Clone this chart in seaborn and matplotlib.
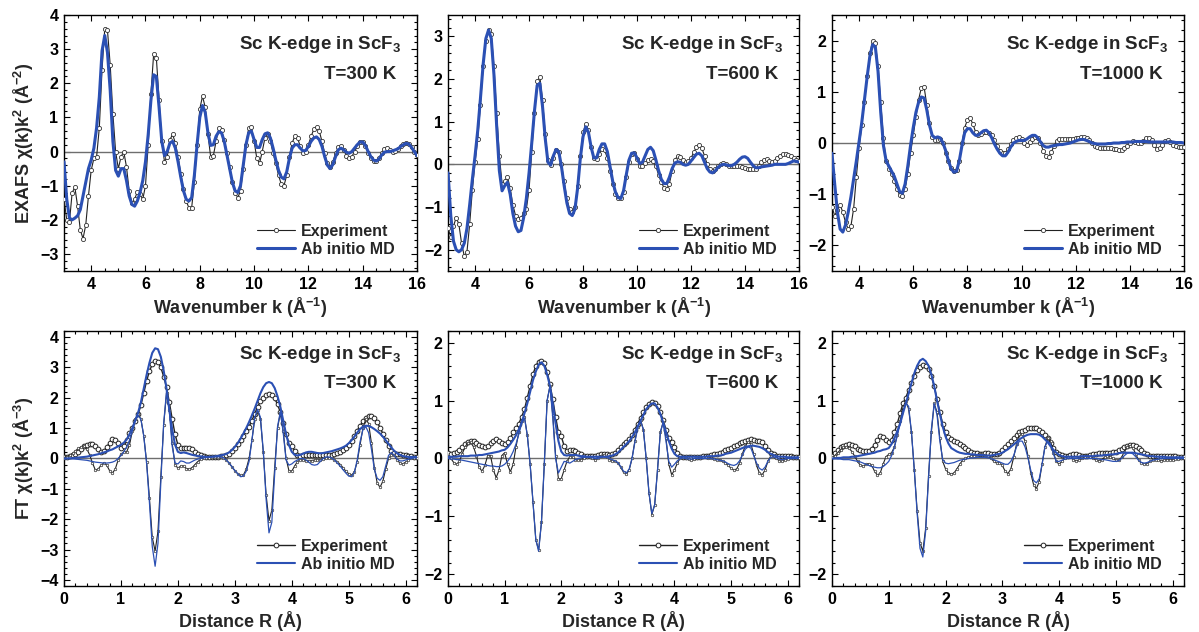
import numpy as np
import matplotlib
matplotlib.use("Agg")
import matplotlib.pyplot as plt
import seaborn as sns
from matplotlib.ticker import MultipleLocator, AutoMinorLocator

# sampling grids (wavenumber k, distance R)
k = np.round(np.linspace(3.0, 16.0, 131), 2)
r = np.round(np.linspace(0.0, 6.2, 125), 2)

# ---- EXAFS chi(k)k^2, experiment / ab initio MD ----
exp_300 = [
    -1.40, -2.00, -2.05, -1.20, -1.05, -1.60, -2.30, -2.55, -2.15, -1.30,
    -0.55, -0.20, -0.15, 0.70, 2.40, 3.60, 3.55, 2.55, 1.10, 0.00,
    -0.50, -0.15, 0.00, -0.45, -1.15, -1.50, -1.40, -1.18, -1.25, -1.40,
    -1.00, 0.20, 1.70, 2.85, 2.75, 1.50, 0.30, -0.30, -0.15, 0.35,
    0.50, 0.25, -0.15, -0.65, -1.10, -1.45, -1.65, -1.65, -0.90, 0.20,
    1.25, 1.62, 1.30, 0.50, -0.15, -0.12, 0.30, 0.68, 0.62, 0.35,
    -0.05, -0.45, -0.90, -1.20, -1.35, -1.15, -0.50, 0.20, 0.68, 0.72,
    0.30, -0.20, -0.35, 0.00, 0.40, 0.50, 0.30, -0.05, -0.35, -0.70,
    -0.95, -1.00, -0.70, -0.15, 0.25, 0.45, 0.40, 0.15, -0.05, 0.00,
    0.20, 0.45, 0.65, 0.72, 0.60, 0.30, -0.05, -0.35, -0.45, -0.30,
    -0.05, 0.12, 0.15, 0.05, -0.12, -0.20, -0.15, 0.00, 0.15, 0.27,
    0.28, 0.15, -0.05, -0.20, -0.28, -0.28, -0.18, -0.05, 0.08, 0.10,
    0.05, 0.00, 0.02, 0.08, 0.15, 0.22, 0.26, 0.22, 0.12, 0.00,
    -0.10]
md_300 = [
    -0.30, -1.40, -1.95, -2.00, -1.95, -1.88, -1.70, -1.30, -0.90, -0.50,
    -0.25, 0.10, 0.70, 1.60, 2.95, 3.40, 2.90, 1.80, 0.30, -0.55,
    -0.72, -0.50, -0.50, -0.85, -1.30, -1.55, -1.60, -1.45, -1.20, -0.85,
    -0.30, 0.50, 1.50, 2.25, 2.20, 1.30, 0.30, -0.12, 0.00, 0.25,
    0.30, 0.10, -0.30, -0.75, -1.15, -1.40, -1.45, -1.35, -0.70, 0.20,
    1.00, 1.35, 1.15, 0.55, 0.18, 0.20, 0.45, 0.58, 0.55, 0.30,
    -0.10, -0.50, -0.90, -1.15, -1.20, -1.00, -0.40, 0.20, 0.55, 0.60,
    0.35, 0.12, 0.12, 0.35, 0.52, 0.55, 0.40, 0.10, -0.25, -0.55,
    -0.75, -0.80, -0.60, -0.20, 0.10, 0.20, 0.20, 0.10, 0.02, 0.03,
    0.15, 0.30, 0.40, 0.43, 0.35, 0.15, -0.15, -0.40, -0.50, -0.38,
    -0.15, 0.05, 0.10, 0.05, -0.02, -0.05, 0.00, 0.10, 0.20, 0.28,
    0.28, 0.18, 0.00, -0.15, -0.25, -0.28, -0.22, -0.10, -0.02, 0.00,
    0.00, 0.02, 0.05, 0.08, 0.15, 0.20, 0.24, 0.22, 0.12, 0.00,
    -0.12]
exp_600 = [
    -1.50, -1.70, -1.45, -1.25, -1.40, -1.85, -2.15, -2.05, -1.40, -0.60,
    0.05, 0.60, 1.40, 2.30, 2.90, 3.15, 3.05, 2.30, 1.20, 0.20,
    -0.45, -0.40, -0.30, -0.55, -0.95, -1.20, -1.28, -1.25, -1.15, -1.05,
    -0.60, 0.30, 1.20, 1.95, 2.05, 1.50, 0.70, 0.10, -0.02, 0.15,
    0.33, 0.30, 0.00, -0.40, -0.80, -1.05, -1.12, -1.00, -0.50, 0.20,
    0.75, 0.95, 0.80, 0.40, 0.15, 0.12, 0.25, 0.35, 0.33, 0.15,
    -0.15, -0.45, -0.70, -0.80, -0.80, -0.65, -0.30, 0.05, 0.25, 0.27,
    0.12, -0.03, -0.05, 0.02, 0.10, 0.13, 0.08, -0.05, -0.25, -0.42,
    -0.55, -0.58, -0.45, -0.15, 0.10, 0.20, 0.18, 0.10, 0.05, 0.07,
    0.15, 0.28, 0.40, 0.45, 0.38, 0.20, 0.00, -0.12, -0.15, -0.10,
    -0.03, 0.00, 0.02, 0.00, -0.03, -0.05, -0.05, -0.04, -0.05, -0.07,
    -0.08, -0.10, -0.12, -0.12, -0.10, -0.03, 0.05, 0.10, 0.12, 0.08,
    0.05, 0.08, 0.15, 0.20, 0.24, 0.25, 0.23, 0.20, 0.15, 0.10,
    0.08]
md_600 = [
    -0.20, -1.20, -1.80, -2.00, -2.05, -2.00, -1.85, -1.50, -0.95, -0.35,
    0.20, 0.80, 1.55, 2.35, 2.95, 3.15, 2.95, 2.10, 0.90, -0.15,
    -0.62, -0.50, -0.42, -0.70, -1.15, -1.45, -1.58, -1.55, -1.25, -0.80,
    -0.20, 0.50, 1.25, 1.85, 1.90, 1.35, 0.60, 0.05, -0.02, 0.20,
    0.35, 0.30, -0.05, -0.50, -0.90, -1.15, -1.20, -1.05, -0.55, 0.15,
    0.65, 0.88, 0.75, 0.40, 0.15, 0.15, 0.35, 0.48, 0.48, 0.30,
    -0.05, -0.40, -0.65, -0.78, -0.80, -0.62, -0.25, 0.10, 0.26, 0.27,
    0.15, 0.02, 0.05, 0.20, 0.35, 0.40, 0.32, 0.10, -0.15, -0.35,
    -0.45, -0.45, -0.30, -0.10, 0.03, 0.06, 0.05, 0.00, -0.02, 0.00,
    0.08, 0.16, 0.24, 0.26, 0.20, 0.05, -0.10, -0.18, -0.20, -0.15,
    -0.07, -0.02, 0.00, -0.01, -0.03, -0.03, 0.00, 0.05, 0.12, 0.17,
    0.18, 0.14, 0.05, -0.03, -0.08, -0.08, -0.06, -0.05, -0.04, -0.03,
    -0.02, 0.00, 0.00, 0.00, 0.00, 0.00, 0.02, 0.05, 0.08, 0.07,
    0.05]
exp_1000 = [
    -1.25, -1.42, -1.30, -1.21, -1.35, -1.55, -1.68, -1.62, -1.28, -0.66,
    -0.10, 0.35, 0.80, 1.30, 1.75, 2.00, 1.95, 1.50, 0.80, 0.10,
    -0.35, -0.50, -0.60, -0.75, -0.90, -1.02, -1.03, -0.90, -0.60, -0.20,
    0.15, 0.50, 0.85, 1.08, 1.10, 0.75, 0.40, 0.12, 0.05, 0.05,
    0.08, 0.00, -0.20, -0.35, -0.48, -0.55, -0.53, -0.35, 0.00, 0.30,
    0.45, 0.48, 0.38, 0.22, 0.15, 0.18, 0.22, 0.22, 0.20, 0.15,
    0.05, -0.05, -0.15, -0.20, -0.20, -0.12, -0.02, 0.06, 0.10, 0.12,
    0.08, 0.00, -0.03, 0.02, 0.08, 0.12, 0.10, 0.00, -0.15, -0.25,
    -0.27, -0.18, -0.05, 0.04, 0.07, 0.08, 0.08, 0.07, 0.07, 0.08,
    0.09, 0.10, 0.11, 0.12, 0.10, 0.06, 0.00, -0.05, -0.08, -0.10,
    -0.10, -0.09, -0.09, -0.10, -0.11, -0.12, -0.14, -0.14, -0.10, -0.05,
    0.00, 0.03, 0.02, 0.00, 0.00, 0.04, 0.09, 0.10, 0.05, -0.04,
    -0.12, -0.10, -0.03, 0.04, 0.06, 0.02, -0.03, -0.06, -0.07, -0.07,
    -0.08]
md_1000 = [
    -0.20, -0.80, -1.35, -1.68, -1.74, -1.60, -1.35, -1.05, -0.70, -0.35,
    0.02, 0.40, 0.85, 1.30, 1.70, 1.92, 1.88, 1.40, 0.60, -0.05,
    -0.35, -0.45, -0.55, -0.65, -0.80, -0.95, -0.98, -0.80, -0.45, -0.05,
    0.30, 0.60, 0.80, 0.90, 0.88, 0.65, 0.35, 0.15, 0.10, 0.12,
    0.10, 0.00, -0.15, -0.35, -0.50, -0.57, -0.55, -0.35, -0.05, 0.20,
    0.28, 0.28, 0.20, 0.15, 0.15, 0.20, 0.24, 0.25, 0.20, 0.10,
    -0.02, -0.12, -0.20, -0.25, -0.25, -0.18, -0.08, 0.00, 0.03, 0.05,
    0.05, 0.05, 0.08, 0.12, 0.15, 0.15, 0.10, 0.02, -0.05, -0.08,
    -0.08, -0.06, -0.05, -0.04, -0.03, -0.03, -0.02, -0.01, 0.00, 0.02,
    0.04, 0.06, 0.07, 0.07, 0.05, 0.03, 0.00, -0.01, -0.02, -0.02,
    -0.02, -0.02, -0.01, -0.01, 0.00, 0.00, 0.00, 0.01, 0.01, 0.02,
    0.02, 0.02, 0.03, 0.03, 0.03, 0.03, 0.03, 0.02, 0.02, 0.02,
    0.02, 0.02, 0.02, 0.02, 0.02, 0.02, 0.02, 0.01, 0.01, 0.01,
    0.00]

# ---- Fourier transforms: magnitude and imaginary part ----
ft_exp_mag_300 = [
    0.05, 0.06, 0.08, 0.11, 0.15, 0.21, 0.32, 0.40, 0.45, 0.48,
    0.47, 0.42, 0.30, 0.22, 0.25, 0.37, 0.52, 0.63, 0.62, 0.50,
    0.36, 0.40, 0.60, 0.85, 1.02, 1.22, 1.45, 1.75, 2.15, 2.55,
    2.88, 3.10, 3.20, 3.17, 3.00, 2.70, 2.35, 1.85, 1.30, 0.80,
    0.45, 0.36, 0.35, 0.36, 0.35, 0.30, 0.22, 0.15, 0.10, 0.07,
    0.05, 0.05, 0.05, 0.05, 0.06, 0.07, 0.08, 0.11, 0.16, 0.24,
    0.35, 0.48, 0.62, 0.75, 0.90, 1.05, 1.25, 1.48, 1.70, 1.88,
    2.00, 2.09, 2.13, 2.10, 1.98, 1.78, 1.52, 1.17, 0.82, 0.50,
    0.42, 0.25, 0.12, 0.08, 0.10, 0.11, 0.12, 0.12, 0.11, 0.10,
    0.10, 0.10, 0.11, 0.12, 0.13, 0.14, 0.18, 0.22, 0.27, 0.35,
    0.45, 0.58, 0.75, 0.92, 1.08, 1.22, 1.33, 1.40, 1.40, 1.33,
    1.20, 1.02, 0.82, 0.60, 0.40, 0.25, 0.17, 0.15, 0.14, 0.12,
    0.10, 0.08, 0.07, 0.06, 0.05]
ft_exp_im_300 = [
    0.02, 0.05, 0.10, 0.17, 0.25, 0.33, 0.38, 0.40, 0.32, 0.12,
    -0.15, -0.38, -0.35, -0.22, -0.15, -0.22, -0.40, -0.48, -0.35, -0.05,
    0.15, 0.20, 0.22, 0.45, 0.90, 1.30, 1.45, 1.30, 0.75, -0.10,
    -1.30, -2.60, -3.05, -2.40, -0.60, 1.10, 2.15, 1.60, 0.50, -0.20,
    -0.32, -0.25, -0.25, -0.33, -0.35, -0.30, -0.20, -0.10, -0.03, 0.00,
    0.02, 0.03, 0.04, 0.05, 0.05, 0.05, 0.02, -0.05, -0.15, -0.28,
    -0.40, -0.50, -0.56, -0.55, -0.35, 0.00, 0.60, 1.30, 1.60, 1.30,
    0.20, -1.20, -2.05, -1.70, -0.30, 1.00, 1.50, 0.90, 0.00, -0.40,
    -0.42, -0.25, -0.10, -0.05, -0.05, -0.07, -0.08, -0.07, -0.05, -0.05,
    -0.04, -0.02, 0.00, 0.02, 0.00, -0.05, -0.10, -0.20, -0.30, -0.42,
    -0.50, -0.55, -0.45, -0.10, 0.45, 1.00, 1.30, 1.15, 0.50, -0.30,
    -0.80, -0.95, -0.75, -0.35, 0.00, 0.12, 0.10, -0.05, -0.15, -0.18,
    -0.12, -0.05, 0.00, 0.03, 0.03]
ft_md_mag_300 = [
    0.00, 0.00, 0.01, 0.01, 0.02, 0.03, 0.04, 0.05, 0.06, 0.08,
    0.10, 0.12, 0.14, 0.17, 0.20, 0.23, 0.27, 0.30, 0.35, 0.40,
    0.45, 0.52, 0.62, 0.80, 1.00, 1.25, 1.50, 1.85, 2.30, 2.75,
    3.15, 3.48, 3.63, 3.60, 3.35, 2.90, 2.30, 1.60, 0.95, 0.45,
    0.22, 0.18, 0.20, 0.18, 0.15, 0.12, 0.10, 0.08, 0.07, 0.06,
    0.05, 0.05, 0.06, 0.07, 0.08, 0.10, 0.12, 0.15, 0.20, 0.28,
    0.38, 0.50, 0.65, 0.82, 1.00, 1.20, 1.42, 1.65, 1.90, 2.15,
    2.35, 2.48, 2.52, 2.48, 2.32, 2.05, 1.70, 1.25, 0.80, 0.45,
    0.22, 0.12, 0.10, 0.12, 0.16, 0.20, 0.22, 0.22, 0.20, 0.18,
    0.17, 0.18, 0.20, 0.22, 0.24, 0.27, 0.30, 0.33, 0.37, 0.42,
    0.50, 0.60, 0.72, 0.85, 0.97, 1.05, 1.08, 1.07, 1.03, 0.97,
    0.90, 0.82, 0.72, 0.60, 0.48, 0.36, 0.25, 0.17, 0.12, 0.08,
    0.06, 0.05, 0.05, 0.05, 0.05]
ft_md_im_300 = [
    0.00, 0.00, -0.01, -0.01, -0.02, -0.03, -0.04, -0.05, -0.06, -0.08,
    -0.10, -0.12, -0.13, -0.14, -0.15, -0.15, -0.14, -0.12, -0.08, 0.00,
    0.10, 0.22, 0.38, 0.60, 0.90, 1.25, 1.42, 1.30, 0.75, -0.15,
    -1.45, -2.90, -3.55, -2.80, -0.80, 1.15, 2.20, 1.55, 0.40, -0.15,
    -0.18, -0.08, -0.10, -0.15, -0.15, -0.10, -0.05, -0.02, 0.00, 0.02,
    0.03, 0.04, 0.05, 0.06, 0.06, 0.05, 0.02, -0.05, -0.15, -0.27,
    -0.40, -0.50, -0.60, -0.58, -0.42, -0.10, 0.60, 1.35, 1.62, 1.35,
    0.25, -1.35, -2.45, -2.10, -0.50, 1.05, 1.55, 0.85, -0.05, -0.22,
    -0.18, -0.10, -0.05, 0.00, 0.00, -0.05, -0.12, -0.20, -0.22, -0.20,
    -0.10, 0.00, 0.05, 0.05, 0.02, -0.05, -0.15, -0.25, -0.37, -0.48,
    -0.58, -0.60, -0.45, -0.05, 0.55, 0.95, 1.05, 0.85, 0.30, -0.35,
    -0.65, -0.72, -0.60, -0.25, 0.10, 0.20, 0.10, -0.02, -0.08, -0.08,
    -0.05, -0.02, 0.00, 0.02, 0.02]

ft_exp_mag_600 = [
    0.10, 0.08, 0.09, 0.12, 0.15, 0.20, 0.25, 0.28, 0.30, 0.30,
    0.27, 0.24, 0.22, 0.20, 0.21, 0.26, 0.31, 0.33, 0.31, 0.27,
    0.25, 0.28, 0.35, 0.45, 0.52, 0.60, 0.72, 0.85, 1.05, 1.25,
    1.45, 1.60, 1.67, 1.69, 1.64, 1.50, 1.28, 1.02, 0.72, 0.45,
    0.38, 0.22, 0.13, 0.14, 0.15, 0.13, 0.10, 0.07, 0.05, 0.04,
    0.04, 0.04, 0.05, 0.06, 0.08, 0.08, 0.07, 0.06, 0.07, 0.10,
    0.15, 0.20, 0.25, 0.29, 0.33, 0.40, 0.50, 0.60, 0.70, 0.80,
    0.88, 0.94, 0.97, 0.96, 0.90, 0.80, 0.66, 0.50, 0.35, 0.28,
    0.20, 0.10, 0.04, 0.03, 0.03, 0.03, 0.03, 0.03, 0.03, 0.03,
    0.04, 0.04, 0.05, 0.06, 0.07, 0.08, 0.10, 0.12, 0.14, 0.16,
    0.18, 0.21, 0.24, 0.27, 0.29, 0.31, 0.32, 0.33, 0.32, 0.30,
    0.30, 0.28, 0.22, 0.15, 0.10, 0.07, 0.05, 0.05, 0.05, 0.04,
    0.04, 0.04, 0.03, 0.03, 0.03]
ft_exp_im_600 = [
    0.05, 0.00, -0.07, -0.10, -0.05, 0.08, 0.20, 0.27, 0.28, 0.20,
    0.05, -0.15, -0.22, -0.12, 0.05, 0.05, -0.20, -0.33, -0.20, 0.05,
    0.10, -0.10, -0.23, -0.10, 0.20, 0.45, 0.65, 0.72, 0.40, -0.10,
    -0.75, -1.40, -1.58, -1.10, -0.10, 1.00, 1.25, 0.75, 0.05, -0.35,
    -0.35, -0.20, -0.05, 0.03, 0.02, -0.02, -0.03, -0.02, 0.00, 0.02,
    0.02, 0.00, -0.02, 0.00, 0.05, 0.06, 0.03, -0.02, -0.05, -0.05,
    -0.08, -0.15, -0.24, -0.27, -0.20, 0.00, 0.30, 0.55, 0.67, 0.50,
    0.00, -0.60, -0.97, -0.80, -0.20, 0.45, 0.63, 0.35, -0.10, -0.28,
    -0.20, -0.08, 0.00, 0.02, 0.00, -0.01, -0.02, -0.01, 0.00, 0.01,
    0.02, 0.02, 0.01, 0.00, -0.01, -0.02, -0.02, -0.05, -0.08, -0.12,
    -0.17, -0.20, -0.18, -0.08, 0.08, 0.22, 0.28, 0.25, 0.08, -0.12,
    -0.25, -0.28, -0.20, -0.05, 0.04, 0.05, 0.00, -0.04, -0.05, -0.03,
    -0.01, 0.00, 0.01, 0.01, 0.01]
ft_md_mag_600 = [
    0.03, 0.03, 0.03, 0.03, 0.04, 0.04, 0.04, 0.04, 0.05, 0.05,
    0.05, 0.06, 0.06, 0.07, 0.08, 0.09, 0.10, 0.11, 0.12, 0.14,
    0.15, 0.19, 0.25, 0.32, 0.40, 0.50, 0.62, 0.78, 0.95, 1.15,
    1.35, 1.50, 1.62, 1.66, 1.60, 1.45, 1.25, 0.95, 0.60, 0.30,
    0.12, 0.06, 0.05, 0.06, 0.06, 0.06, 0.05, 0.04, 0.04, 0.03,
    0.03, 0.03, 0.03, 0.03, 0.03, 0.03, 0.03, 0.04, 0.05, 0.07,
    0.10, 0.15, 0.20, 0.25, 0.30, 0.37, 0.45, 0.55, 0.65, 0.75,
    0.85, 0.91, 0.95, 0.95, 0.88, 0.77, 0.62, 0.46, 0.30, 0.17,
    0.08, 0.04, 0.03, 0.03, 0.03, 0.03, 0.03, 0.03, 0.03, 0.03,
    0.03, 0.03, 0.04, 0.04, 0.04, 0.05, 0.05, 0.06, 0.08, 0.09,
    0.10, 0.12, 0.14, 0.16, 0.18, 0.20, 0.21, 0.22, 0.22, 0.21,
    0.20, 0.18, 0.15, 0.11, 0.08, 0.06, 0.04, 0.03, 0.03, 0.03,
    0.02, 0.02, 0.02, 0.02, 0.02]
ft_md_im_600 = [
    0.00, -0.01, -0.01, -0.02, -0.02, -0.03, -0.04, -0.05, -0.06, -0.07,
    -0.08, -0.09, -0.10, -0.11, -0.12, -0.13, -0.13, -0.14, -0.14, -0.13,
    -0.10, -0.05, 0.02, 0.12, 0.25, 0.42, 0.60, 0.70, 0.40, -0.10,
    -0.75, -1.40, -1.60, -1.10, -0.10, 1.00, 1.25, 0.70, 0.00, -0.25,
    -0.15, -0.05, -0.06, -0.08, -0.05, -0.02, 0.00, 0.01, 0.02, 0.02,
    0.02, 0.01, 0.00, 0.00, 0.02, 0.03, 0.02, 0.00, -0.02, -0.04,
    -0.07, -0.14, -0.22, -0.25, -0.18, 0.00, 0.28, 0.52, 0.65, 0.50,
    0.00, -0.60, -0.95, -0.80, -0.20, 0.45, 0.62, 0.30, -0.05, -0.15,
    -0.10, -0.04, 0.00, 0.01, 0.00, -0.01, -0.01, 0.00, 0.00, 0.00,
    0.00, 0.00, 0.00, 0.00, -0.01, -0.02, -0.03, -0.04, -0.06, -0.09,
    -0.11, -0.12, -0.10, -0.04, 0.06, 0.16, 0.20, 0.18, 0.05, -0.08,
    -0.17, -0.20, -0.15, -0.05, 0.02, 0.03, 0.01, -0.01, -0.02, -0.01,
    0.00, 0.00, 0.00, 0.00, 0.00]

ft_exp_mag_1000 = [
    0.05, 0.09, 0.14, 0.19, 0.22, 0.24, 0.25, 0.24, 0.21, 0.17,
    0.14, 0.13, 0.13, 0.13, 0.17, 0.24, 0.32, 0.38, 0.37, 0.32,
    0.28, 0.32, 0.45, 0.60, 0.78, 0.95, 1.05, 1.18, 1.30, 1.42,
    1.52, 1.58, 1.62, 1.60, 1.55, 1.42, 1.25, 1.02, 0.80, 0.60,
    0.45, 0.37, 0.33, 0.30, 0.28, 0.25, 0.22, 0.18, 0.15, 0.12,
    0.10, 0.09, 0.08, 0.08, 0.09, 0.09, 0.08, 0.08, 0.08, 0.10,
    0.15, 0.20, 0.25, 0.30, 0.35, 0.40, 0.45, 0.48, 0.50, 0.52,
    0.53, 0.53, 0.52, 0.49, 0.45, 0.40, 0.36, 0.27, 0.18, 0.12,
    0.08, 0.06, 0.05, 0.05, 0.06, 0.07, 0.07, 0.06, 0.05, 0.05,
    0.05, 0.06, 0.07, 0.08, 0.10, 0.10, 0.10, 0.10, 0.10, 0.11,
    0.12, 0.14, 0.16, 0.19, 0.22, 0.24, 0.24, 0.22, 0.18, 0.14,
    0.10, 0.08, 0.05, 0.04, 0.04, 0.04, 0.04, 0.04, 0.04, 0.04,
    0.04, 0.04, 0.03, 0.03, 0.03]
ft_exp_im_1000 = [
    0.02, 0.05, 0.10, 0.15, 0.19, 0.20, 0.18, 0.12, 0.04, -0.05,
    -0.12, -0.13, -0.10, -0.09, -0.12, -0.22, -0.29, -0.25, -0.10, 0.03,
    0.07, 0.10, 0.20, 0.40, 0.65, 0.88, 1.00, 0.85, 0.45, -0.20,
    -0.90, -1.45, -1.60, -1.20, -0.30, 0.45, 0.95, 0.80, 0.35, -0.05,
    -0.18, -0.25, -0.27, -0.25, -0.18, -0.10, -0.03, 0.00, 0.02, 0.04,
    0.05, 0.06, 0.07, 0.07, 0.06, 0.04, 0.00, -0.05, -0.08, -0.07,
    -0.12, -0.22, -0.26, -0.18, 0.02, 0.25, 0.42, 0.42, 0.30, 0.05,
    -0.25, -0.45, -0.52, -0.40, -0.10, 0.20, 0.35, 0.30, 0.10, -0.05,
    -0.10, -0.05, 0.00, 0.03, 0.02, -0.02, -0.04, -0.03, 0.00, 0.03,
    0.04, 0.03, 0.00, -0.03, -0.04, -0.02, 0.02, 0.04, 0.03, 0.00,
    -0.03, -0.03, 0.02, 0.12, 0.20, 0.22, 0.18, 0.08, -0.03, -0.08,
    -0.10, -0.09, -0.05, -0.02, -0.02, -0.03, -0.04, -0.03, -0.02, -0.02,
    -0.02, -0.01, -0.01, 0.00, 0.00]
ft_md_mag_1000 = [
    0.00, 0.00, 0.01, 0.01, 0.02, 0.02, 0.02, 0.03, 0.03, 0.04,
    0.05, 0.06, 0.07, 0.08, 0.09, 0.10, 0.12, 0.13, 0.15, 0.16,
    0.18, 0.25, 0.35, 0.47, 0.60, 0.78, 0.95, 1.12, 1.30, 1.47,
    1.60, 1.69, 1.72, 1.68, 1.60, 1.45, 1.25, 1.00, 0.77, 0.55,
    0.38, 0.26, 0.18, 0.15, 0.12, 0.10, 0.09, 0.08, 0.08, 0.07,
    0.07, 0.06, 0.06, 0.06, 0.05, 0.05, 0.05, 0.06, 0.07, 0.08,
    0.10, 0.13, 0.16, 0.20, 0.24, 0.28, 0.33, 0.36, 0.39, 0.41,
    0.42, 0.42, 0.42, 0.41, 0.38, 0.33, 0.28, 0.21, 0.15, 0.10,
    0.06, 0.04, 0.03, 0.03, 0.03, 0.03, 0.03, 0.03, 0.04, 0.04,
    0.04, 0.04, 0.04, 0.05, 0.05, 0.05, 0.06, 0.06, 0.07, 0.07,
    0.08, 0.09, 0.10, 0.10, 0.10, 0.10, 0.10, 0.09, 0.08, 0.07,
    0.06, 0.05, 0.04, 0.04, 0.03, 0.03, 0.03, 0.03, 0.02, 0.02,
    0.02, 0.02, 0.02, 0.02, 0.02]
ft_md_im_1000 = [
    0.00, 0.00, -0.01, -0.01, -0.02, -0.02, -0.02, -0.03, -0.04, -0.05,
    -0.06, -0.08, -0.10, -0.12, -0.14, -0.15, -0.16, -0.16, -0.14, -0.10,
    -0.05, 0.05, 0.20, 0.40, 0.60, 0.82, 0.95, 0.90, 0.45, -0.20,
    -0.95, -1.55, -1.70, -1.25, -0.35, 0.50, 0.95, 0.75, 0.30, -0.02,
    -0.08, -0.09, -0.08, -0.07, -0.05, -0.03, -0.02, -0.01, 0.00, 0.01,
    0.01, 0.02, 0.02, 0.02, 0.02, 0.01, 0.00, -0.02, -0.04, -0.06,
    -0.08, -0.10, -0.10, -0.05, 0.05, 0.20, 0.30, 0.30, 0.20, 0.02,
    -0.20, -0.38, -0.42, -0.35, -0.10, 0.20, 0.30, 0.25, 0.08, -0.05,
    -0.05, -0.03, -0.01, 0.00, 0.00, 0.00, 0.00, 0.00, 0.00, 0.00,
    0.00, 0.00, 0.00, 0.00, -0.01, -0.02, -0.02, -0.03, -0.04, -0.05,
    -0.05, -0.04, 0.00, 0.05, 0.09, 0.10, 0.08, 0.03, -0.03, -0.07,
    -0.08, -0.07, -0.05, -0.03, -0.02, -0.01, 0.00, 0.00, 0.00, 0.00,
    0.00, 0.00, 0.00, 0.00, 0.00]

temps = ["300", "600", "1000"]
exafs_exp = [exp_300, exp_600, exp_1000]
exafs_md = [md_300, md_600, md_1000]
ft_exp_mag = [ft_exp_mag_300, ft_exp_mag_600, ft_exp_mag_1000]
ft_exp_im = [ft_exp_im_300, ft_exp_im_600, ft_exp_im_1000]
ft_md_mag = [ft_md_mag_300, ft_md_mag_600, ft_md_mag_1000]
ft_md_im = [ft_md_im_300, ft_md_im_600, ft_md_im_1000]
top_ylim = [(-3.5, 4), (-2.5, 3.5), (-2.5, 2.5)]
bot_ylim = [(-4.2, 4.2), (-2.2, 2.2), (-2.2, 2.2)]

BLUE = "#2b50b4"

sns.set_theme(style="ticks")
plt.rcParams["font.family"] = ["Liberation Sans", "DejaVu Sans"]
plt.rcParams.update({
    "font.weight": "bold",
    "axes.labelweight": "bold",
    "mathtext.fontset": "custom",
    "mathtext.rm": "Liberation Sans:bold",
    "mathtext.bf": "Liberation Sans:bold",
    "mathtext.it": "Liberation Sans:bold",
    "axes.linewidth": 1.0,
    "axes.edgecolor": "black",
})

fig = plt.figure(figsize=(11.99, 6.32), dpi=100)
lefts = [0.0534, 0.3737, 0.6939]
widths = [0.2944, 0.2927, 0.2936]


def style_axis(ax, xmaj, xminor):
    ax.tick_params(which="both", direction="in", top=True, right=True,
                   colors="black", labelsize=11.5, width=0.8)
    ax.tick_params(which="major", length=4.5, pad=4)
    ax.tick_params(which="minor", length=2.5)
    ax.xaxis.set_major_locator(MultipleLocator(xmaj))
    ax.xaxis.set_minor_locator(AutoMinorLocator(xminor))
    ax.yaxis.set_major_locator(MultipleLocator(1))
    ax.yaxis.set_minor_locator(AutoMinorLocator(5))
    for lab in ax.get_xticklabels() + ax.get_yticklabels():
        lab.set_fontweight("bold")


def annotate(ax, temp, y1, y2):
    ax.text(0.955, y1, r"Sc K-edge in ScF$_\mathbf{3}$", transform=ax.transAxes,
            ha="right", va="center", fontsize=13.5, fontweight="bold")
    ax.text(0.94, y2, f"T={temp} K", transform=ax.transAxes,
            ha="right", va="center", fontsize=13.5, fontweight="bold")


for i in range(3):
    # top row: EXAFS in k-space
    ax = fig.add_axes([lefts[i], 0.5712, widths[i], 0.405])
    ax.axhline(0, color="#6e6e6e", lw=1.0, zorder=1)
    sns.lineplot(x=k, y=exafs_exp[i], ax=ax, color="#222222", lw=0.8,
                 marker="o", markersize=3, markerfacecolor="white",
                 markeredgecolor="#333333", markeredgewidth=0.6,
                 label="Experiment", zorder=3)
    sns.lineplot(x=k, y=exafs_md[i], ax=ax, color=BLUE, lw=2.2,
                 label="Ab initio MD", zorder=4)
    ax.set_xlim(3, 16)
    ax.set_ylim(*top_ylim[i])
    style_axis(ax, 2, 4)
    ax.set_xlabel(r"Wavenumber k (Å$^\mathbf{-1}$)", fontsize=13, labelpad=3)
    if i == 0:
        ax.set_ylabel(r"EXAFS χ(k)k$^\mathbf{2}$ (Å$^\mathbf{-2}$)", fontsize=13, labelpad=3)
    else:
        ax.set_ylabel("")
    annotate(ax, temps[i], 0.883, 0.766)
    ax.legend(loc="lower right", bbox_to_anchor=(0.955, 0.03), frameon=False,
              handlelength=2.4, handletextpad=0.35, labelspacing=0.2,
              borderaxespad=0, prop={"weight": "bold", "size": 11.5})

    # bottom row: Fourier transforms in R-space
    ax = fig.add_axes([lefts[i], 0.0728, widths[i], 0.4035])
    ax.axhline(0, color="#6e6e6e", lw=1.0, zorder=1)
    sns.lineplot(x=r, y=ft_exp_mag[i], ax=ax, color="#222222", lw=1.0,
                 marker="o", markersize=3.4, markerfacecolor="white",
                 markeredgecolor="#222222", markeredgewidth=0.7,
                 label="Experiment", zorder=3)
    sns.lineplot(x=r, y=ft_exp_im[i], ax=ax, color="#222222", lw=0.8,
                 marker="o", markersize=1.8, markerfacecolor="white",
                 markeredgecolor="#333333", markeredgewidth=0.5, zorder=3)
    sns.lineplot(x=r, y=ft_md_mag[i], ax=ax, color=BLUE, lw=1.5,
                 label="Ab initio MD", zorder=4)
    sns.lineplot(x=r, y=ft_md_im[i], ax=ax, color=BLUE, lw=0.9, zorder=4)
    ax.set_xlim(0, 6.2)
    ax.set_ylim(*bot_ylim[i])
    style_axis(ax, 1, 5)
    ax.set_xlabel("Distance R (Å)", fontsize=13, labelpad=3)
    if i == 0:
        ax.set_ylabel(r"FT χ(k)k$^\mathbf{2}$ (Å$^\mathbf{-3}$)", fontsize=13, labelpad=3)
    else:
        ax.set_ylabel("")
    annotate(ax, temps[i], 0.906, 0.796)
    ax.legend(loc="lower right", bbox_to_anchor=(0.955, 0.03), frameon=False,
              handlelength=2.4, handletextpad=0.35, labelspacing=0.2,
              borderaxespad=0, prop={"weight": "bold", "size": 11.5})

fig.savefig("out.png", dpi=100)
